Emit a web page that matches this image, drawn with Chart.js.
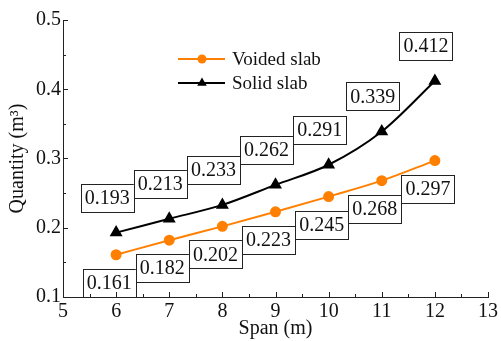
<!DOCTYPE html>
<html>
<head>
<meta charset="utf-8">
<script src="https://cdn.jsdelivr.net/npm/chart.js@4"></script>
<style>
  html, body { margin: 0; padding: 0; background: #fff; }
  #wrap { width: 501px; height: 341px; }
</style>
</head>
<body>
<div id="wrap"><canvas id="grafico"></canvas></div>
<script>
// datos
const spans = [6, 7, 8, 9, 10, 11, 12];
const voided = [0.161, 0.182, 0.202, 0.223, 0.245, 0.268, 0.297];
const solid = [0.193, 0.213, 0.233, 0.262, 0.291, 0.339, 0.412];
const xTicks = [5, 6, 7, 8, 9, 10, 11, 12, 13];
const yTicks = [0.1, 0.2, 0.3, 0.4, 0.5];

const serif = '"Liberation Serif"';

// cajas con los valores de cada punto
const etiquetas = {
  id: 'etiquetas',
  afterDatasetsDraw(chart) {
    const ctx = chart.ctx;
    ctx.save();
    ctx.font = '20px ' + serif;
    ctx.textAlign = 'center';
    ctx.textBaseline = 'middle';
    chart.data.datasets.forEach((ds, i) => {
      const meta = chart.getDatasetMeta(i);
      const dx = ds.labelDx, dy = ds.labelDy;
      meta.data.forEach((pt, j) => {
        const txt = ds.data[j].y.toFixed(3);
        const w = ctx.measureText(txt).width + 8;
        const h = 28;
        const cx = pt.x + dx, cy = pt.y + dy;
        ctx.fillStyle = '#fff';
        ctx.fillRect(cx - w / 2, cy - h / 2, w, h);
        ctx.strokeStyle = '#222';
        ctx.lineWidth = 1;
        ctx.strokeRect(Math.round(cx - w / 2) + 0.5, Math.round(cy - h / 2) + 0.5, Math.round(w), h);
        ctx.fillStyle = '#111';
        ctx.fillText(txt, cx, cy + 1);
      });
    });
    ctx.restore();
  }
};

// marcas de los ejes hacia adentro y leyenda
const ejes = {
  id: 'ejes',
  afterDraw(chart) {
    const ctx = chart.ctx;
    const xs = chart.scales.x, ys = chart.scales.y;
    const a = chart.chartArea;
    ctx.save();
    ctx.strokeStyle = '#222';
    ctx.lineWidth = 1;
    ctx.beginPath();
    for (let v = 5; v <= 13; v += 0.5) {
      const px = Math.round(xs.getPixelForValue(v)) + 0.5;
      const len = Number.isInteger(v) ? 5 : 3;
      ctx.moveTo(px, a.bottom);
      ctx.lineTo(px, a.bottom - len);
    }
    for (let k = 0; k <= 8; k++) {
      const v = 0.1 + k * 0.05;
      const py = Math.round(ys.getPixelForValue(v)) + 0.5;
      const len = k % 2 === 0 ? 5 : 3;
      ctx.moveTo(a.left, py);
      ctx.lineTo(a.left + len, py);
    }
    ctx.stroke();

    // leyenda
    const items = [
      { ds: chart.data.datasets[0], y: 59 },
      { ds: chart.data.datasets[1], y: 83 }
    ];
    ctx.font = '19px ' + serif;
    ctx.textBaseline = 'middle';
    items.forEach(it => {
      ctx.strokeStyle = it.ds.borderColor;
      ctx.lineWidth = 2;
      ctx.beginPath();
      ctx.moveTo(178, it.y);
      ctx.lineTo(225, it.y);
      ctx.stroke();
      ctx.fillStyle = it.ds.pointBackgroundColor;
      ctx.beginPath();
      const r = it.ds.pointRadius;
      if (it.ds.pointStyle === 'circle') {
        ctx.arc(202, it.y, r, 0, Math.PI * 2);
      } else {
        ctx.moveTo(202, it.y - r);
        ctx.lineTo(202 + r * 0.87, it.y + r * 0.5);
        ctx.lineTo(202 - r * 0.87, it.y + r * 0.5);
        ctx.closePath();
      }
      ctx.fill();
      ctx.fillStyle = '#111';
      ctx.fillText(it.ds.label, 232, it.y + 1);
    });
    ctx.restore();
  }
};

const puntos = (ys) => spans.map((x, i) => ({ x: x, y: ys[i] }));

function dibujar() {
  new Chart(document.getElementById('grafico'), {
    type: 'line',
    data: {
      datasets: [{
        label: 'Voided slab',
        data: puntos(voided),
        borderColor: '#ff8000',
        backgroundColor: '#ff8000',
        pointBackgroundColor: '#ff8000',
        pointBorderColor: '#ff8000',
        pointStyle: 'circle',
        pointRadius: 4.5,
        borderWidth: 2,
        tension: 0.3,
        cubicInterpolationMode: 'monotone',
        labelDx: -7,
        labelDy: 28
      }, {
        label: 'Solid slab',
        data: puntos(solid),
        borderColor: '#000',
        backgroundColor: '#000',
        pointBackgroundColor: '#000',
        pointBorderColor: '#000',
        pointStyle: 'triangle',
        pointRadius: 5.5,
        borderWidth: 2,
        tension: 0.4,
        cubicInterpolationMode: 'monotone',
        labelDx: -9,
        labelDy: -35
      }]
    },
    options: {
      responsive: true,
      maintainAspectRatio: false,
      animation: false,
      layout: { padding: { top: 20, right: 11, left: 6, bottom: 0 } },
      plugins: {
        legend: { display: false },
        tooltip: { enabled: false }
      },
      scales: {
        x: {
          type: 'linear',
          min: 5,
          max: 13,
          afterBuildTicks: (s) => { s.ticks = xTicks.map(v => ({ value: v })); },
          afterFit: (s) => { s.height = 44; },
          grid: { display: false, drawTicks: false },
          border: { display: true, color: '#222', width: 1 },
          ticks: { color: '#111', font: { family: serif, size: 20 }, padding: 3, maxRotation: 0 },
          title: { display: true, text: 'Span (m)', color: '#111', font: { family: serif, size: 20 }, padding: { top: -2, bottom: 0 } }
        },
        y: {
          min: 0.1,
          max: 0.5,
          afterBuildTicks: (s) => { s.ticks = yTicks.map(v => ({ value: v })); },
          afterFit: (s) => { s.width = 57; },
          grid: { display: false, drawTicks: false },
          border: { display: true, color: '#222', width: 1 },
          ticks: { color: '#111', font: { family: serif, size: 20 }, padding: 2, callback: (v) => String(Math.round(v * 10) / 10) },
          title: { display: true, text: 'Quantity (m³)', color: '#111', font: { family: serif, size: 20 }, padding: { top: 0, bottom: -6 } }
        }
      }
    },
    plugins: [etiquetas, ejes]
  });
}

if (document.fonts && document.fonts.load) {
  document.fonts.load('20px "Liberation Serif"').then(dibujar, dibujar);
} else {
  dibujar();
}
</script>
</body>
</html>
